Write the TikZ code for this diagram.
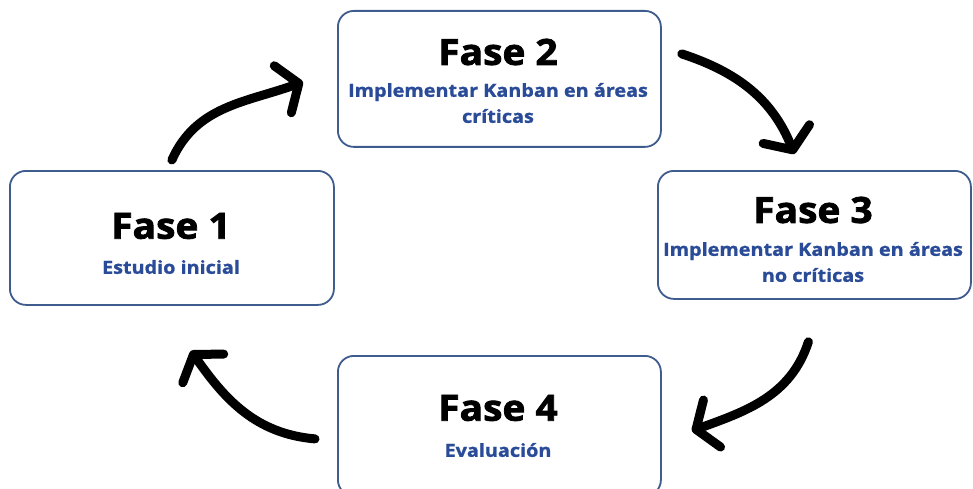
\documentclass[tikz,border=0pt]{standalone}
\usepackage{fontspec}
\setmainfont{Open Sans}
\newfontfamily\ttlfont{Open Sans}[BoldFeatures={FakeBold=2.2,FakeStretch=1.08}]
\newfontfamily\subfont{Open Sans}[BoldFeatures={FakeBold=1.2,FakeStretch=1.1}]
\usetikzlibrary{arrows.meta,calc}
\definecolor{boxline}{HTML}{3F5C8E}
\definecolor{subblue}{HTML}{2A4C98}
\begin{document}
\begin{tikzpicture}[x=1pt,y=1pt,
  phase/.style={draw=boxline,line width=1.8pt,rounded corners=16pt,fill=white,inner sep=0pt},
  ttl/.style={font=\ttlfont\fontsize{36}{40}\selectfont\bfseries,text=black},
  sub/.style={font=\subfont\fontsize{18}{26}\selectfont\bfseries,text=subblue,align=center},
  flow/.style={line width=9pt,line cap=round,line join=round,
    -{Straight Barb[length=17pt,width=50pt,line cap=round,line join=round]}}]
\useasboundingbox (0,0) rectangle (973,-489);
% boxes
\node[phase,minimum width=324pt,minimum height=134pt,anchor=north west] (f1) at (9,-170) {};
\node[phase,minimum width=323pt,minimum height=136pt,anchor=north west] (f2) at (337,-10) {};
\node[phase,minimum width=313pt,minimum height=128pt,anchor=north west] (f3) at (657,-170) {};
\node[phase,minimum width=323pt,minimum height=140pt,anchor=north west] (f4) at (337,-355) {};
% texts
\node[ttl] (t1) at (171,-226) {Fase 1};
\node[sub] (s1) at (171,-267) {Estudio inicial};
\node[ttl] (t2) at (498,-52) {Fase 2};
\node[sub] (s2) at (498,-103) {Implementar Kanban en áreas\\críticas};
\node[ttl] (t3) at (813,-210) {Fase 3};
\node[sub] (s3) at (813,-262) {Implementar Kanban en áreas\\no críticas};
\node[ttl] (t4) at (498,-408) {Fase 4};
\node[sub] (s4) at (498,-450) {Evaluación};
% arrows
\draw[flow] ($(f1.north)+(0,10)$) to[out=66,in=200] ($(f2.west)+(-34,-3)$);
\draw[flow] ($(f2.east)+(20,25)$) to[out=-18,in=112] ($(f3.north)+(-20,16)$);
\draw[flow] ($(f3.south)+(-6,-42)$) to[out=-108,in=20] ($(f4.east)+(30,-5)$);
\draw[flow] ($(f4.west)+(-22,-13)$) to[out=175,in=-55] ($(f1.south)+(19,-45)$);
\end{tikzpicture}
\end{document}
